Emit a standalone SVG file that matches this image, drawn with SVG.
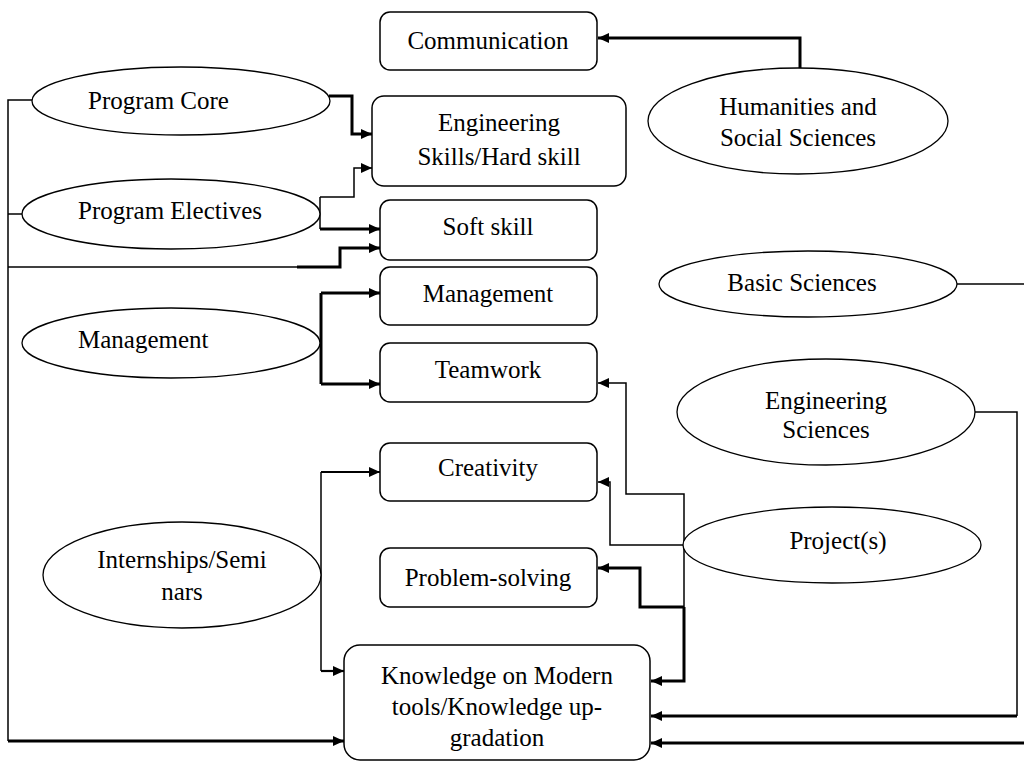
<svg xmlns="http://www.w3.org/2000/svg" width="1024" height="763" viewBox="0 0 1024 763">
<style>
.box{fill:#fff;stroke:#000;stroke-width:1.5}
.ell{fill:#fff;stroke:#000;stroke-width:1.3}
text{font-family:"Liberation Serif","Times New Roman",serif;font-size:25px;fill:#000}
.c{text-anchor:middle}
.thin{fill:none;stroke:#000;stroke-width:1.5}
.mid{fill:none;stroke:#000;stroke-width:2.2}
.thick{fill:none;stroke:#000;stroke-width:3}
</style>
<defs>
<marker id="ah" markerUnits="userSpaceOnUse" markerWidth="11" markerHeight="10" refX="11" refY="5" orient="auto">
<path d="M0,0 L11,5 L0,10 z" fill="#000"/>
</marker>
</defs>
<rect width="1024" height="763" fill="#fff"/>

<g id="connectors">
<path class="thick" d="M800,68 V38 H598" marker-end="url(#ah)"/>
<path class="thick" d="M329,96 H352 V134 H372" marker-end="url(#ah)"/>
<path class="thin" d="M320,197 H354 V168 H372" marker-end="url(#ah)"/>
<path class="thin" d="M320,197 V229"/>
<path class="thick" d="M320,229 H380" marker-end="url(#ah)"/>
<path class="thin" d="M32,100 H8 V741"/>
<path class="thin" d="M8,214 H23"/>
<path class="thin" d="M8,267 H297"/>
<path class="thick" d="M297,267 H340 V248 H380" marker-end="url(#ah)"/>
<path class="thick" d="M8,741 H344" marker-end="url(#ah)"/>
<path class="thick" d="M321,293 V384"/>
<path class="thick" d="M321,293 H380" marker-end="url(#ah)"/>
<path class="thick" d="M321,384 H380" marker-end="url(#ah)"/>
<path class="thin" d="M321,472 V671"/>
<path class="mid" d="M321,472 H380" marker-end="url(#ah)"/>
<path class="mid" d="M321,671 H344" marker-end="url(#ah)"/>
<path class="thin" d="M684,545 H610 V482 H598" marker-end="url(#ah)"/>
<path class="thin" d="M684,545 V494 H626 V383 H598" marker-end="url(#ah)"/>
<path class="thin" d="M684,545 V607"/>
<path class="thick" d="M684,607 V681 H651" marker-end="url(#ah)"/>
<path class="thick" d="M684,607 H640 V568 H598" marker-end="url(#ah)"/>
<path class="thin" d="M975,412 H1017 V716"/>
<path class="thick" d="M1017,716 H651" marker-end="url(#ah)"/>
<path class="thin" d="M957,284 H1024"/>
<path class="thick" d="M1024,743 H651" marker-end="url(#ah)"/>
</g>

<g id="communication"><rect class="box" x="380" y="12" width="217" height="58" rx="10"/><text class="c" x="488" y="49">Communication</text></g>
<g id="engineering-skills"><rect class="box" x="372" y="96" width="254" height="90" rx="12"/><text class="c" x="499" y="131">Engineering</text><text class="c" x="499" y="165">Skills/Hard skill</text></g>
<g id="soft-skill"><rect class="box" x="380" y="200" width="217" height="60" rx="10"/><text class="c" x="488" y="235">Soft skill</text></g>
<g id="management-box"><rect class="box" x="380" y="267" width="217" height="58" rx="10"/><text class="c" x="488" y="302">Management</text></g>
<g id="teamwork"><rect class="box" x="380" y="343" width="217" height="59" rx="10"/><text class="c" x="488" y="378">Teamwork</text></g>
<g id="creativity"><rect class="box" x="380" y="443" width="217" height="58" rx="10"/><text class="c" x="488" y="476">Creativity</text></g>
<g id="problem-solving"><rect class="box" x="380" y="548" width="217" height="59" rx="10"/><text class="c" x="488" y="586">Problem-solving</text></g>
<g id="knowledge"><rect class="box" x="344" y="645" width="306" height="115" rx="16"/><text class="c" x="497" y="684">Knowledge on Modern</text><text class="c" x="497" y="715">tools/Knowledge up-</text><text class="c" x="497" y="746">gradation</text></g>

<g id="program-core"><ellipse class="ell" cx="181" cy="101" rx="149" ry="34"/><text x="88" y="109">Program Core</text></g>
<g id="program-electives"><ellipse class="ell" cx="171" cy="214" rx="149" ry="35"/><text x="78" y="219">Program Electives</text></g>
<g id="management-ellipse"><ellipse class="ell" cx="171" cy="343" rx="149" ry="35"/><text x="78" y="348">Management</text></g>
<g id="internships"><ellipse class="ell" cx="182" cy="575" rx="139" ry="53"/><text class="c" x="182" y="568">Internships/Semi</text><text class="c" x="182" y="600">nars</text></g>
<g id="humanities"><ellipse class="ell" cx="798" cy="121" rx="150" ry="53"/><text class="c" x="798" y="115">Humanities and</text><text class="c" x="798" y="146">Social Sciences</text></g>
<g id="basic-sciences"><ellipse class="ell" cx="808" cy="284" rx="149" ry="33"/><text class="c" x="802" y="291">Basic Sciences</text></g>
<g id="engineering-sciences"><ellipse class="ell" cx="826" cy="412" rx="149" ry="53"/><text class="c" x="826" y="409">Engineering</text><text class="c" x="826" y="438">Sciences</text></g>
<g id="projects"><ellipse class="ell" cx="832" cy="545" rx="149" ry="38"/><text class="c" x="838" y="549">Project(s)</text></g>
</svg>
